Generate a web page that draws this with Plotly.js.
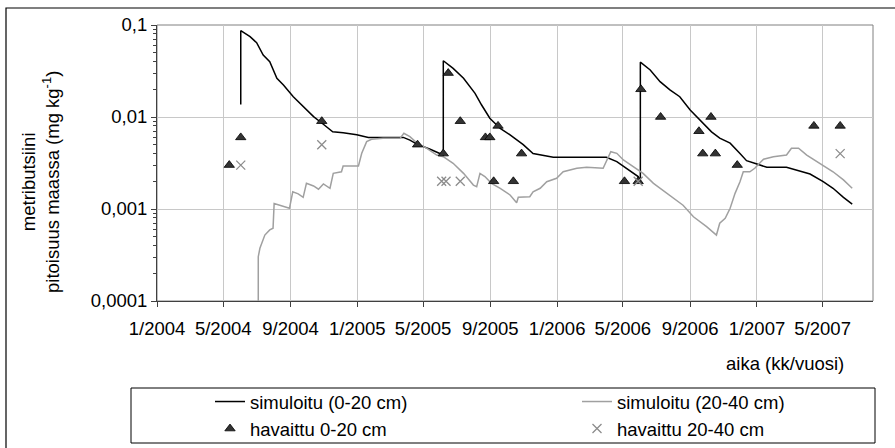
<!DOCTYPE html>
<html>
<head>
<meta charset="utf-8">
<script src="https://cdn.plot.ly/plotly-3.0.1.min.js"></script>
<style>html,body{margin:0;padding:0;background:#fff;}#chart{width:895px;height:448px;}</style>
</head>
<body>
<div id="chart"></div>
<script>
// ---- data ----
var simDates0 = ['2004-06-02','2004-06-02','2004-06-19','2004-07-01','2004-07-13','2004-07-25','2004-08-07','2004-08-19','2004-09-06','2004-09-24','2004-10-13','2004-10-28','2004-11-17','2004-12-06','2004-12-31','2005-01-21','2005-03-26','2005-04-07','2005-04-19','2005-05-14','2005-06-07','2005-06-07','2005-06-25','2005-07-14','2005-08-04','2005-08-16','2005-08-31','2005-09-19','2005-10-07','2005-10-31','2005-11-18','2005-12-25','2006-04-01','2006-04-20','2006-05-08','2006-05-29','2006-06-02','2006-06-02','2006-06-20','2006-07-08','2006-07-26','2006-08-13','2006-09-01','2006-09-19','2006-10-10','2006-10-25','2006-11-13','2006-12-01','2006-12-13','2007-01-01','2007-01-19','2007-02-24','2007-03-15','2007-04-08','2007-05-02','2007-05-20','2007-06-08','2007-06-24'];
var simVals0 = [0.0137,0.0867,0.0746,0.0642,0.0472,0.0399,0.0264,0.0223,0.0166,0.0129,0.0101,0.0086,0.0069,0.00675,0.0064,0.0060,0.0060,0.0056,0.0051,0.00446,0.00386,0.0409,0.0338,0.0264,0.0181,0.0135,0.0097,0.0075,0.0064,0.0050,0.0040,0.00365,0.00365,0.00327,0.00277,0.00225,0.00198,0.0394,0.0324,0.0242,0.0197,0.0166,0.0119,0.0093,0.0069,0.0059,0.0052,0.0040,0.00335,0.00308,0.00284,0.00284,0.00265,0.0024,0.00198,0.00168,0.00134,0.00113];

var simDates1 = ['2004-07-04','2004-07-04','2004-07-07','2004-07-16','2004-07-25','2004-07-31','2004-08-02','2004-08-19','2004-08-30','2004-09-05','2004-09-15','2004-09-24','2004-09-30','2004-10-13','2004-10-22','2004-10-31','2004-11-12','2004-11-18','2004-12-03','2004-12-06','2005-01-03','2005-01-09','2005-01-18','2005-01-27','2005-02-17','2005-03-20','2005-03-27','2005-04-07','2005-04-19','2005-05-08','2005-05-26','2005-06-07','2005-06-25','2005-07-14','2005-08-01','2005-08-07','2005-08-13','2005-08-22','2005-09-03','2005-09-19','2005-10-07','2005-10-19','2005-10-22','2005-11-12','2005-11-18','2005-12-01','2005-12-13','2005-12-31','2006-01-12','2006-02-06','2006-02-24','2006-03-26','2006-04-04','2006-04-09','2006-04-20','2006-05-02','2006-05-20','2006-06-07','2006-06-26','2006-07-08','2006-07-26','2006-08-19','2006-09-07','2006-10-01','2006-10-19','2006-10-25','2006-11-04','2006-11-13','2006-11-22','2006-12-01','2006-12-07','2006-12-19','2006-12-28','2007-01-13','2007-01-31','2007-02-24','2007-03-05','2007-03-18','2007-04-02','2007-04-26','2007-05-20','2007-06-08','2007-06-24'];
var simVals1 = [0.00001,0.000303,0.000374,0.000521,0.000592,0.000617,0.00115,0.00106,0.00102,0.00154,0.00146,0.00134,0.00190,0.00178,0.00164,0.00187,0.00168,0.00244,0.00254,0.00293,0.00293,0.00403,0.00540,0.00573,0.00586,0.00586,0.00665,0.00611,0.00526,0.00457,0.00386,0.00370,0.00314,0.00244,0.00182,0.00175,0.00244,0.00225,0.00190,0.00168,0.00142,0.00117,0.00134,0.00136,0.00154,0.00168,0.00198,0.00216,0.00254,0.00277,0.00284,0.00277,0.00356,0.00420,0.00403,0.00341,0.00288,0.00244,0.00190,0.00168,0.00142,0.00110,0.000824,0.000643,0.000521,0.000700,0.000793,0.00102,0.00148,0.00198,0.00254,0.00254,0.00277,0.00347,0.00370,0.00386,0.00457,0.00457,0.00386,0.00314,0.00254,0.00207,0.00168];

var obsDates0 = ['2004-05-12','2004-06-02','2004-10-28','2005-04-21','2005-06-07','2005-06-16','2005-07-08','2005-08-23','2005-08-31','2005-09-15','2005-09-07','2005-10-13','2005-10-28','2006-05-04','2006-05-29','2006-06-03','2006-07-09','2006-09-17','2006-10-09','2006-09-24','2006-10-17','2006-11-26','2007-04-15','2007-06-02'];
var obsVals0 = [0.003,0.006,0.009,0.005,0.004,0.03,0.009,0.006,0.006,0.008,0.002,0.002,0.004,0.002,0.002,0.02,0.01,0.007,0.01,0.004,0.004,0.003,0.008,0.008];

var obsDates1 = ['2004-06-02','2004-10-28','2005-06-04','2005-06-12','2005-07-08','2006-05-29','2007-06-02'];
var obsVals1 = [0.003,0.005,0.002,0.002,0.002,0.002,0.004];

var seriesNames = ['simuloitu (0-20 cm)','simuloitu (20-40 cm)','havaittu 0-20 cm','havaittu 20-40 cm'];
var yTickVals = [0.0001,0.001,0.01,0.1];
var yTickText = ['0,0001','0,001','0,01','0,1'];
var xRange = ['2004-01-01','2007-08-01'];

// ---- layout helpers ----
var W = 895, H = 448, L = 157, R = 873, T = 25, B = 301;
function px(x){ return (x - L) / (R - L); }
function py(y){ return (B - y) / (B - T); }

var yMinor = [];
for (var e = -4; e < -1; e++) { for (var k = 2; k <= 9; k++) { yMinor.push(k * Math.pow(10, e)); } }

var FONT = 'Liberation Sans, Arial, sans-serif';
var FS = 18.5;

var traces = [
  {x: simDates0, y: simVals0, name: seriesNames[0], type: 'scatter', mode: 'lines',
   line: {color: '#000000', width: 1.5}, legend: 'legend'},
  {x: simDates1, y: simVals1, name: seriesNames[1], type: 'scatter', mode: 'lines',
   line: {color: '#a0a0a0', width: 1.5}, legend: 'legend2'},
  {x: obsDates0, y: obsVals0, name: seriesNames[2], type: 'scatter', mode: 'markers',
   marker: {symbol: 'triangle-up', size: 9, color: '#333333', line: {color: '#000000', width: 0.8}}, legend: 'legend'},
  {x: obsDates1, y: obsVals1, name: seriesNames[3], type: 'scatter', mode: 'markers',
   marker: {symbol: 'x-thin-open', size: 9, color: '#8c8c8c', line: {color: '#8c8c8c', width: 1.3}}, legend: 'legend2'}
];

var layout = {
  width: W, height: H,
  margin: {l: L, r: W - R, t: T, b: H - B, autoexpand: false},
  paper_bgcolor: '#ffffff', plot_bgcolor: '#ffffff',
  font: {family: FONT, size: FS, color: '#000000'},
  showlegend: true,
  xaxis: {
    type: 'date', range: xRange, tick0: '2004-01-01', dtick: 'M4', tickformat: '%-m/%Y',
    ticks: 'outside', ticklen: 5, tickwidth: 1, tickcolor: '#404040',
    showline: true, linecolor: '#404040', linewidth: 1,
    showgrid: true, gridcolor: '#c8c8c8', gridwidth: 1, zeroline: false,
    tickfont: {family: FONT, size: FS, color: '#000'}, ticklabelstandoff: 6
  },
  xaxis2: {
    type: 'date', range: xRange, tick0: '2004-01-01', dtick: 'M2', overlaying: 'x', anchor: 'y', side: 'bottom',
    ticks: 'inside', ticklen: 5, tickwidth: 1, tickcolor: '#404040',
    showticklabels: false, showgrid: false, showline: false, zeroline: false
  },
  yaxis: {
    type: 'log', range: [-4, -1], tickmode: 'array', tickvals: yTickVals, ticktext: yTickText,
    ticks: 'outside', ticklen: 5, tickwidth: 1, tickcolor: '#404040',
    showline: true, linecolor: '#404040', linewidth: 1,
    showgrid: true, gridcolor: '#c8c8c8', gridwidth: 1, zeroline: false,
    minor: {tickmode: 'array', tickvals: yMinor, ticks: 'outside', ticklen: 3, tickcolor: '#404040', showgrid: false},
    tickfont: {family: FONT, size: FS, color: '#000'}
  },
  legend: {
    x: px(210), y: py(383), xanchor: 'left', yanchor: 'top', orientation: 'v',
    bgcolor: 'rgba(0,0,0,0)', borderwidth: 0, font: {family: FONT, size: FS, color: '#000'},
    tracegroupgap: 0
  },
  legend2: {
    x: px(577), y: py(383), xanchor: 'left', yanchor: 'top', orientation: 'v',
    bgcolor: 'rgba(0,0,0,0)', borderwidth: 0, font: {family: FONT, size: FS, color: '#000'},
    tracegroupgap: 0
  },
  shapes: [
    // outer chart frame
    {type: 'rect', xref: 'paper', yref: 'paper', x0: px(6), x1: px(900), y0: py(452), y1: py(8),
     line: {color: '#000000', width: 1.2}, fillcolor: 'rgba(0,0,0,0)', layer: 'below'},
    // plot area frame (top / right)
    {type: 'rect', xref: 'paper', yref: 'paper', x0: 0, x1: 1, y0: 0, y1: 1,
     line: {color: '#808080', width: 1}, fillcolor: 'rgba(0,0,0,0)', layer: 'below'},
    // legend box
    {type: 'rect', xref: 'paper', yref: 'paper', x0: px(131), x1: px(875), y0: py(443), y1: py(388),
     line: {color: '#000000', width: 1}, fillcolor: 'rgba(0,0,0,0)'}
  ],
  annotations: [
    {text: 'metributsiini<br>pitoisuus maassa (mg kg<sup>-1</sup>)', textangle: -90,
     xref: 'paper', yref: 'paper', x: px(40), y: py(182), xanchor: 'center', yanchor: 'middle',
     showarrow: false, font: {family: FONT, size: FS, color: '#000'}, align: 'center'},
    {text: 'aika (kk/vuosi)', xref: 'paper', yref: 'paper', x: px(846), y: py(363),
     xanchor: 'right', yanchor: 'middle', showarrow: false, font: {family: FONT, size: FS, color: '#000'}}
  ]
};

Plotly.newPlot('chart', traces, layout, {displayModeBar: false, staticPlot: true});
</script>
</body>
</html>
